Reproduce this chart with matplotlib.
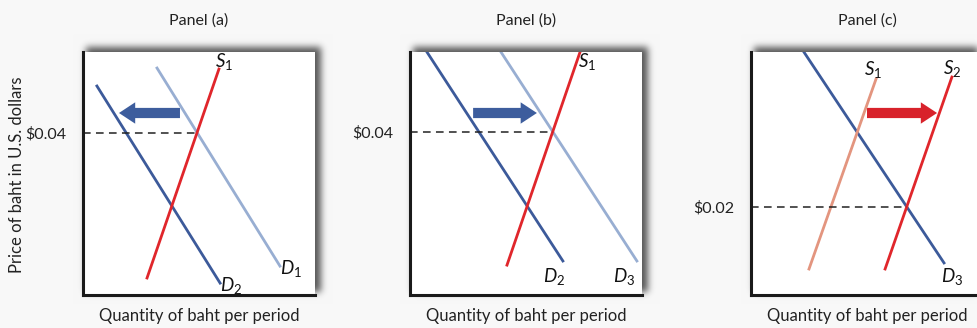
import numpy as np
import matplotlib
matplotlib.use('Agg')
import matplotlib.pyplot as plt

plt.rcParams['font.family'] = ['Lato', 'DejaVu Sans']
plt.rcParams['mathtext.fontset'] = 'custom'
plt.rcParams['mathtext.rm'] = 'Lato'
plt.rcParams['mathtext.it'] = 'Lato:italic'

# panel data (x, y pairs of line end points, in 0-10 units)
titles = ['Panel (a)', 'Panel (b)', 'Panel (c)']
price_labels = [r'\$0.04', r'\$0.04', r'\$0.02']
prices = [6.67, 6.71, 3.62]

a_D2 = ([0.60, 5.91], [8.60, 0.49])
a_D1 = ([3.19, 8.49], [9.34, 1.19])
a_S1 = ([2.76, 5.86], [0.70, 9.30])
a_arrow = (4.18, 1.55, 7.49)

b_D2 = ([0.73, 6.59], [10.0, 1.40])
b_D3 = ([3.92, 9.78], [10.0, 1.40])
b_S1 = ([4.18, 7.33], [1.23, 10.0])
b_arrow = (2.72, 5.47, 7.49)

c_D3 = ([2.28, 8.32], [10.0, 1.32])
c_S1 = ([2.50, 5.39], [1.07, 8.89])
c_S2 = ([5.78, 8.66], [1.07, 8.97])
c_arrow = (5.00, 8.02, 7.49)

dark_blue = '#3c5a9a'
light_blue = '#98aed2'
red = '#e0262b'
salmon = '#e3957f'
arrow_blue = '#3d5d9d'
arrow_red = '#d8222b'
bg = '#f8f8f8'

W, H = 978, 328
fig = plt.figure(figsize=(W / 100, H / 100), dpi=100)
fig.patch.set_facecolor(bg)

boxes = [(83, 52, 315, 295), (410, 52, 642, 295), (751, 52, 983, 295)]

# drop shadow behind the boxes
mask = np.zeros((H, W))
for x0, y0, x1, y1 in boxes:
    mask[max(y0 - 5, 0):y1 - 3, x0 + 3:min(x1 + 6, W)] = 1
k = np.exp(-0.5 * (np.arange(-12, 13) / 3.5) ** 2)
k /= k.sum()
mask = np.apply_along_axis(lambda r: np.convolve(r, k, mode='same'), 1, mask)
mask = np.apply_along_axis(lambda c: np.convolve(c, k, mode='same'), 0, mask)
base = np.array(matplotlib.colors.to_rgb(bg))
img = base[None, None, :] * (1 - 0.65 * mask[:, :, None])
bax = fig.add_axes([0, 0, 1, 1])
bax.imshow(img, extent=(0, W, H, 0), aspect='auto', interpolation='bilinear')
bax.set_xlim(0, W)
bax.set_ylim(H, 0)
bax.axis('off')

axes = []
for x0, y0, x1, y1 in boxes:
    ax = fig.add_axes([x0 / W, (H - y1) / H, (x1 - x0) / W, (y1 - y0) / H])
    ax.set_xlim(0, 10)
    ax.set_ylim(0, 10)
    ax.set_facecolor('white')
    for s in ['top', 'right']:
        ax.spines[s].set_visible(False)
    for s in ['left', 'bottom']:
        ax.spines[s].set_linewidth(2.2)
        ax.spines[s].set_color('#1a1a1a')
    ax.set_xticks([])
    axes.append(ax)


def cross(l1, l2):
    (x1, x2), (y1, y2) = l1
    (x3, x4), (y3, y4) = l2
    m1 = (y2 - y1) / (x2 - x1)
    m2 = (y4 - y3) / (x4 - x3)
    x = (y3 - y1 + m1 * x1 - m2 * x3) / (m1 - m2)
    return x


def arrow(ax, a, color):
    x_start, x_end, y = a
    ax.arrow(x_start, y, x_end - x_start, 0, width=0.42, head_width=0.88,
             head_length=0.7, length_includes_head=True, color=color, lw=0)


def label(ax, x, y, letter, sub):
    ax.text(x, y, r'$\mathit{%s}_{\mathrm{%s}}$' % (letter, sub), fontsize=13.5,
            ha='center', va='center', color='#111111')


lw = 2.0
dash = dict(color='#222222', lw=1.1, ls=(0, (5, 3.5)))
ax = axes[0]
ax.plot(*a_D2, color=dark_blue, lw=lw)
ax.plot(*a_D1, color=light_blue, lw=lw)
ax.plot(*a_S1, color=red, lw=lw)
ax.plot([0, cross(a_D1, a_S1)], [prices[0]] * 2, **dash)
arrow(ax, a_arrow, arrow_blue)
label(ax, 6.1, 9.6, 'S', '1')
label(ax, 8.95, 1.1, 'D', '1')
label(ax, 6.4, 0.4, 'D', '2')

ax = axes[1]
ax.plot(*b_D2, color=dark_blue, lw=lw)
ax.plot(*b_D3, color=light_blue, lw=lw)
ax.plot(*b_S1, color=red, lw=lw)
ax.plot([0, cross(b_D3, b_S1)], [prices[1]] * 2, **dash)
arrow(ax, b_arrow, arrow_blue)
label(ax, 7.65, 9.6, 'S', '1')
label(ax, 6.21, 0.78, 'D', '2')
label(ax, 9.22, 0.78, 'D', '3')

ax = axes[2]
ax.plot(*c_D3, color=dark_blue, lw=lw)
ax.plot(*c_S1, color=salmon, lw=lw)
ax.plot(*c_S2, color=red, lw=lw)
ax.plot([0, cross(c_D3, c_S2)], [prices[2]] * 2, **dash)
arrow(ax, c_arrow, arrow_red)
label(ax, 5.26, 9.26, 'S', '1')
label(ax, 8.66, 9.34, 'S', '2')
label(ax, 8.66, 0.78, 'D', '3')

for ax, t, p, pl in zip(axes, titles, prices, price_labels):
    ax.set_yticks([p])
    ax.set_yticklabels([pl], fontsize=11.5, color='#222222')
    ax.tick_params(axis='y', length=0, pad=12)
    ax.text(0.5, 1.128, t, transform=ax.transAxes, ha='center', va='center',
            fontsize=11.5, color='#222222')
    ax.text(0.5, -0.085, 'Quantity of baht per period', transform=ax.transAxes,
            ha='center', va='center', fontsize=12, color='#222222')

axes[0].text(-0.284, 0.494, 'Price of baht in U.S. dollars', transform=axes[0].transAxes,
             rotation=90, ha='center', va='center', fontsize=12, color='#222222')

fig.savefig('out.png', dpi=100, facecolor=bg)
